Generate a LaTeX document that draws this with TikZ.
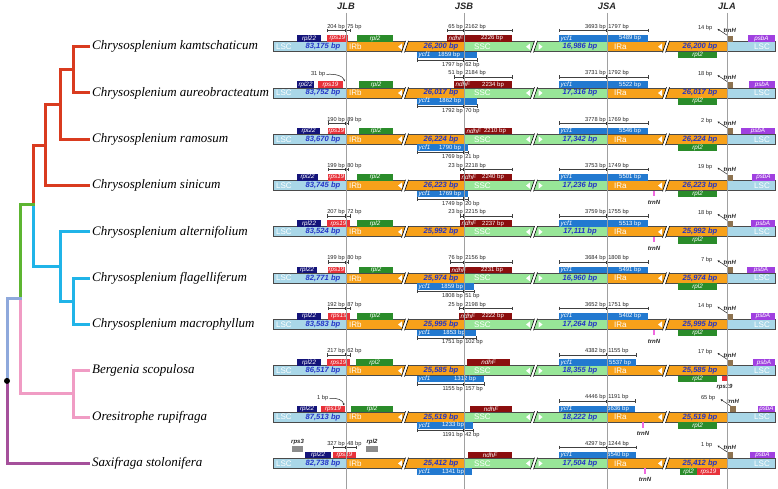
\documentclass[tikz,border=0pt]{standalone}
\usepackage{fontspec}
\setmainfont{Liberation Sans}
\newfontfamily\spfont{Liberation Serif}
\usetikzlibrary{arrows.meta}
\definecolor{lsccol}{HTML}{A9D7E8}
\definecolor{ircol}{HTML}{F7A11A}
\definecolor{ssccol}{HTML}{98E698}
\definecolor{barcol}{HTML}{4A4A4A}
\definecolor{rplnavy}{HTML}{14147A}
\definecolor{rpsred}{HTML}{E8323A}
\definecolor{rplgreen}{HTML}{2A8C2A}
\definecolor{ndhfcol}{HTML}{8B0E0E}
\definecolor{ycfcol}{HTML}{2279D0}
\definecolor{trnhcol}{HTML}{8E7350}
\definecolor{psbacol}{HTML}{A040E0}
\definecolor{trnncol}{HTML}{F06AE0}
\definecolor{rpsthree}{HTML}{8C8C8C}
\definecolor{bpblue}{HTML}{2233C8}
\definecolor{gridcol}{HTML}{A0A0A0}
\definecolor{trred}{HTML}{D93B1F}
\definecolor{trgreen}{HTML}{5DB531}
\definecolor{trblue}{HTML}{20B4E8}
\definecolor{trlblue}{HTML}{8FA9DC}
\definecolor{trpink}{HTML}{F09CC4}
\definecolor{trpurple}{HTML}{A5509B}
\tikzset{
  gbox/.style={inner sep=0pt, outer sep=0pt, minimum height=6.6pt, draw=none},
  glab/.style={font=\fontsize{6.3}{7}\selectfont\itshape, text=white, inner sep=0pt},
  blab/.style={font=\fontsize{6}{7}\selectfont, text=white, inner sep=0pt},
  dtext/.style={font=\fontsize{5.7}{6.5}\selectfont, text=black!85, inner sep=0.5pt},
  tlab/.style={font=\fontsize{6}{7}\selectfont\bfseries\itshape, text=black!85, inner sep=0.3pt},
  dimln/.style={line width=0.4pt, draw=black!75},
  seglab/.style={font=\fontsize{8}{9}\selectfont, text=white, inner sep=0pt},
  bplab/.style={font=\fontsize{7.6}{8}\selectfont\bfseries\itshape, text=bpblue, inner sep=0pt},
  species/.style={font=\spfont\fontsize{13}{14}\selectfont\itshape, anchor=west, inner sep=0pt},
  hdr/.style={font=\fontsize{9.3}{10}\selectfont\bfseries\itshape, text=black!85, inner sep=0pt},
  barline/.style={draw=barcol, line width=0.9pt},
  brkline/.style={draw=black, line width=0.6pt},
  arrln/.style={draw=black!85, line width=0.5pt},
  treeln/.style={line width=3pt, line cap=rect, line join=miter},
  gridln/.style={draw=gridcol, line width=0.6pt}
}
\newcommand{\gmBrk}[1]{%
  \fill[white] (#1-3.5,5.8) -- (#1+0.5,-5.8) -- (#1+3.5,-5.8) -- (#1-0.5,5.8) -- cycle;
  \draw[brkline] (#1-3.5,5.8) -- (#1+0.5,-5.8) (#1-0.5,5.8) -- (#1+3.5,-5.8);}
\newcommand{\gmTriL}[1]{\fill[white] (#1,-3.2) -- (#1,3.2) -- (#1-4,0) -- cycle;}
\newcommand{\gmTriR}[1]{\fill[white] (#1,-3.2) -- (#1,3.2) -- (#1+4,0) -- cycle;}
\newcommand{\gmBar}[4]{%
  \fill[lsccol] (273,-5) rectangle (346,5);
  \fill[ircol] (346,-5) rectangle (464,5);
  \fill[ssccol] (464,-5) rectangle (607,5);
  \fill[ircol] (607,-5) rectangle (727,5);
  \fill[lsccol] (727,-5) rectangle (775,5);
  \draw[barline] (273,-5) rectangle (775,5);
  \gmTriL{402}\gmBrk{405}
  \gmTriL{530}\gmBrk{534}\gmTriR{538.5}
  \gmTriL{662}\gmBrk{666}
  \node[seglab, anchor=west] (#1lsc) at (276,0) {LSC};
  \node[bplab] (#1lscbp) at (323,0) {#2 bp};
  \node[seglab, anchor=west] (#1irb) at (349,0) {IRb};
  \node[bplab] (#1irbbp) at (441,0) {#3 bp};
  \node[seglab, anchor=west] (#1ssc) at (474,0) {SSC};
  \node[bplab] (#1sscbp) at (580,0) {#4 bp};
  \node[seglab, anchor=west] (#1ira) at (614,0) {IRa};
  \node[bplab] (#1irabp) at (700,0) {#3 bp};
  \node[seglab] (#1lscr) at (762,0) {LSC};}
\newcommand{\gmGU}[5]{%
  \node[gbox, fill=#4, minimum width={#3pt-#2pt}, anchor=south west] (#1) at (#2,-5) {};
  \node[glab] (#1t) at (#1.center) {#5};}
\newcommand{\gmGD}[5]{%
  \node[gbox, fill=#4, minimum width={#3pt-#2pt}, anchor=north west] (#1) at (#2,5) {};
  \node[glab] (#1t) at (#1.center) {#5};}
\newcommand{\gmGUb}[7]{%
  \node[gbox, fill=#4, minimum width={#3pt-#2pt}, anchor=south west] (#1) at (#2,-5) {};
  \node[glab, anchor=west] (#1t) at ([xshift=1.5pt]#1.west) {#5};
  \node[blab] (#1b) at (#7,-8.3) {#6};}
\newcommand{\gmGDb}[7]{%
  \node[gbox, fill=#4, minimum width={#3pt-#2pt}, anchor=north west] (#1) at (#2,5) {};
  \node[glab, anchor=west] (#1t) at ([xshift=1.5pt]#1.west) {#5};
  \node[blab] (#1b) at (#7,8.3) {#6};}
\newcommand{\gmDU}[5]{%
  \draw[dimln] (#1,-16) -- (#3,-16) (#1,-17.8) -- (#1,-14.2) (#3,-17.8) -- (#3,-14.2);
  \fill[black!80] (#2-0.8,-17.6) rectangle (#2+0.8,-14.4);
  \node[dtext, anchor=south east] at (#2-0.6,-16.4) {#4};
  \node[dtext, anchor=south west] at (#2+0.6,-16.4) {#5};}
\newcommand{\gmDD}[5]{%
  \draw[dimln] (#1,13.3) -- (#3,13.3) (#1,11.5) -- (#1,15.1) (#3,11.5) -- (#3,15.1);
  \fill[black!80] (#2-0.8,11.7) rectangle (#2+0.8,14.9);
  \node[dtext, anchor=north east] at (#2-0.6,14.6) {#4};
  \node[dtext, anchor=north west] at (#2+0.6,14.6) {#5};}
\newcommand{\gmTrnH}[3]{%
  \fill[trnhcol] (#2,-5) rectangle (#2+6,-11);
  \draw[arrln, -{Stealth[length=2.2pt,width=2pt]}] (#2+0.5,-11.2) -- (#2-9.5,-17.8);
  \node[dtext, anchor=east] at (#2-14,-18.6) {#3};
  \node[tlab, anchor=south west] (#1) at (#2-4,-13.2) {trnH};}
\newcommand{\gmPsbA}[2]{%
  \node[gbox, fill=psbacol, minimum width={775pt-#2pt}, anchor=south west] (#1) at (#2,-5) {};
  \node[glab] (#1t) at (#1.center) {psbA};}
\newcommand{\gmTrnN}[2]{%
  \fill[trnncol] (#2-0.8,5) rectangle (#2+0.8,10.5);
  \node[tlab] (#1) at (#2,16.5) {trnN};}
\newcommand{\gmCurve}[3]{%
  \node[dtext, anchor=east] at (#2,-18.6) {#1};
  \draw[arrln, -{Stealth[length=2pt,width=1.8pt]}] (#2+0.5,-18.6) .. controls (#2+9,-19.5) and (#3-1,-17) .. (#3,-11.6);}

\begin{document}
\begin{tikzpicture}[x=1pt,y=-1pt]
\useasboundingbox (0,0) rectangle (778,489);
\fill[white] (0,0) rectangle (778,489);

% ---------- tree ----------
\begin{scope}[treeln]
\draw[trred] (88,46.7) -- (73,46.7) -- (73,93) -- (88,93);
\draw[trred] (73,69.85) -- (60,69.85) -- (60,139.3) -- (88,139.3);
\draw[trred] (60,104.6) -- (45,104.6) -- (45,185.6) -- (88,185.6);
\draw[trred] (45,145.1) -- (33,145.1) -- (33,204);
\draw[trblue] (33,204) -- (33,266.6) -- (60,266.6);
\draw[trblue] (88,231.9) -- (60,231.9) -- (60,301.35) -- (73,301.35);
\draw[trblue] (88,278.2) -- (73,278.2) -- (73,324.5) -- (88,324.5);
\draw[trgreen] (33,204) -- (20,204) -- (20,298.35);
\draw[trpink] (20,298.35) -- (20,393.95) -- (73,393.95);
\draw[trpink] (88,370.8) -- (73,370.8) -- (73,417.1) -- (88,417.1);
\draw[trlblue] (20,298.35) -- (7,298.35) -- (7,380.9);
\draw[trpurple] (7,380.9) -- (7,463.4) -- (88,463.4);
\end{scope}
\fill[black] (7,380.9) circle[radius=3pt];

% ---------- species ----------
\node[species] (sp1) at (92,46.7) {Chrysosplenium kamtschaticum};
\node[species] (sp2) at (92,93) {Chrysosplenium aureobracteatum};
\node[species] (sp3) at (92,139.3) {Chrysosplenium ramosum};
\node[species] (sp4) at (92,185.6) {Chrysosplenium sinicum};
\node[species] (sp5) at (92,231.9) {Chrysosplenium alternifolium};
\node[species] (sp6) at (92,278.2) {Chrysosplenium flagelliferum};
\node[species] (sp7) at (92,324.5) {Chrysosplenium macrophyllum};
\node[species] (sp8) at (92,370.8) {Bergenia scopulosa};
\node[species] (sp9) at (92,417.1) {Oresitrophe rupifraga};
\node[species] (sp10) at (92,463.4) {Saxifraga stolonifera};

% ---------- row 1 ----------
\begin{scope}[yshift=-46.7pt]
\gmBar{r1}{83,175}{26,200}{16,986}
\gmGU{r1a}{297}{321}{rplnavy}{rpl22}
\gmGU{r1b}{327}{348}{rpsred}{rps19}
\gmGU{r1c}{357}{393}{rplgreen}{rpl2}
\gmDU{327}{346}{350}{204 bp}{75 bp}
\gmGUb{r1d}{447}{512}{ndhfcol}{ndhF}{2226 bp}{492}
\gmDU{447}{464}{512}{65 bp}{2162 bp}
\gmGDb{r1e}{417}{477}{ycfcol}{ycf1}{1859 bp}{449}
\gmDD{417}{464}{477}{1797 bp}{62 bp}
\gmGUb{r1f}{559}{648}{ycfcol}{ycf1}{5489 bp}{630}
\gmDU{559}{607}{648}{3693 bp}{1797 bp}
\gmTrnH{r1g}{727}{14 bp}
\gmPsbA{r1h}{748}
\gmGD{r1i}{678}{717}{rplgreen}{rpl2}
\end{scope}

% ---------- row 2 ----------
\begin{scope}[yshift=-93pt]
\gmBar{r2}{83,752}{26,017}{17,316}
\gmGU{r2a}{297}{314}{rplnavy}{rpl22}
\gmGU{r2b}{318}{343}{rpsred}{rps19}
\gmGU{r2c}{359}{393}{rplgreen}{rpl2}
\gmCurve{31 bp}{326}{344.5}
\gmGUb{r2d}{454}{512}{ndhfcol}{ndhF}{2234 bp}{493}
\gmDU{454}{464}{512}{51 bp}{2184 bp}
\gmGDb{r2e}{417}{477}{ycfcol}{ycf1}{1862 bp}{450}
\gmDD{417}{464}{477}{1792 bp}{70 bp}
\gmGUb{r2f}{559}{648}{ycfcol}{ycf1}{5522 bp}{630}
\gmDU{559}{607}{648}{3731 bp}{1792 bp}
\gmTrnH{r2g}{727}{18 bp}
\gmPsbA{r2h}{749}
\gmGD{r2i}{678}{717}{rplgreen}{rpl2}
\end{scope}

% ---------- row 3 ----------
\begin{scope}[yshift=-139.3pt]
\gmBar{r3}{83,670}{26,224}{17,342}
\gmGU{r3a}{297}{320}{rplnavy}{rpl22}
\gmGU{r3b}{328}{345}{rpsred}{rps19}
\gmGU{r3c}{359}{393}{rplgreen}{rpl2}
\gmDU{328}{346}{348}{190 bp}{89 bp}
\gmGUb{r3d}{465}{512}{ndhfcol}{ndhF}{2210 bp}{495}
\gmGDb{r3e}{417}{468}{ycfcol}{ycf1}{1790 bp}{450}
\gmDD{417}{464}{468}{1769 bp}{21 bp}
\gmGUb{r3f}{559}{648}{ycfcol}{ycf1}{5546 bp}{630}
\gmDU{559}{607}{648}{3778 bp}{1769 bp}
\gmTrnH{r3g}{727}{2 bp}
\gmPsbA{r3h}{741}
\gmGD{r3i}{678}{717}{rplgreen}{rpl2}
\end{scope}

% ---------- row 4 ----------
\begin{scope}[yshift=-185.6pt]
\gmBar{r4}{83,745}{26,223}{17,236}
\gmGU{r4a}{297}{318}{rplnavy}{rpl22}
\gmGU{r4b}{328}{345}{rpsred}{rps19}
\gmGU{r4c}{357}{393}{rplgreen}{rpl2}
\gmDU{328}{346}{348}{199 bp}{80 bp}
\gmGUb{r4d}{460}{512}{ndhfcol}{ndhF}{2240 bp}{493}
\gmDU{460}{464}{512}{23 bp}{2218 bp}
\gmGDb{r4e}{417}{468}{ycfcol}{ycf1}{1769 bp}{450}
\gmDD{417}{464}{468}{1749 bp}{20 bp}
\gmGUb{r4f}{559}{648}{ycfcol}{ycf1}{5501 bp}{630}
\gmDU{559}{607}{648}{3753 bp}{1749 bp}
\gmTrnH{r4g}{727}{19 bp}
\gmPsbA{r4h}{752}
\gmGD{r4i}{678}{717}{rplgreen}{rpl2}
\gmTrnN{r4j}{654}
\end{scope}

% ---------- row 5 ----------
\begin{scope}[yshift=-231.9pt]
\gmBar{r5}{83,524}{25,992}{17,111}
\gmGU{r5a}{297}{321}{rplnavy}{rpl22}
\gmGU{r5b}{327}{350}{rpsred}{rps19}
\gmGU{r5c}{357}{393}{rplgreen}{rpl2}
\gmDU{327}{346}{350}{207 bp}{72 bp}
\gmGUb{r5d}{460}{512}{ndhfcol}{ndhF}{2237 bp}{493}
\gmDU{460}{464}{512}{23 bp}{2215 bp}
\gmGUb{r5f}{559}{648}{ycfcol}{ycf1}{5513 bp}{630}
\gmDU{559}{607}{648}{3759 bp}{1755 bp}
\gmTrnH{r5g}{727}{18 bp}
\gmPsbA{r5h}{751}
\gmGD{r5i}{678}{717}{rplgreen}{rpl2}
\gmTrnN{r5j}{654}
\end{scope}

% ---------- row 6 ----------
\begin{scope}[yshift=-278.2pt]
\gmBar{r6}{82,771}{25,974}{16,960}
\gmGU{r6a}{297}{317}{rplnavy}{rpl22}
\gmGU{r6b}{328}{345}{rpsred}{rps19}
\gmGU{r6c}{359}{393}{rplgreen}{rpl2}
\gmDU{328}{346}{348}{199 bp}{80 bp}
\gmGUb{r6d}{450}{512}{ndhfcol}{ndhF}{2231 bp}{492}
\gmDU{450}{464}{512}{76 bp}{2156 bp}
\gmGDb{r6e}{417}{474}{ycfcol}{ycf1}{1859 bp}{452}
\gmDD{417}{464}{474}{1808 bp}{51 bp}
\gmGUb{r6f}{559}{648}{ycfcol}{ycf1}{5491 bp}{630}
\gmDU{559}{607}{648}{3684 bp}{1808 bp}
\gmTrnH{r6g}{727}{7 bp}
\gmPsbA{r6h}{747}
\gmGD{r6i}{678}{717}{rplgreen}{rpl2}
\end{scope}

% ---------- row 7 ----------
\begin{scope}[yshift=-324.5pt]
\gmBar{r7}{83,583}{25,995}{17,264}
\gmGU{r7a}{297}{321}{rplnavy}{rpl22}
\gmGU{r7b}{328}{350}{rpsred}{rps19}
\gmGU{r7c}{357}{393}{rplgreen}{rpl2}
\gmDU{328}{346}{350}{192 bp}{87 bp}
\gmGUb{r7d}{459}{512}{ndhfcol}{ndhF}{2222 bp}{493}
\gmDU{459}{464}{512}{25 bp}{2198 bp}
\gmGDb{r7e}{417}{476}{ycfcol}{ycf1}{1853 bp}{454}
\gmDD{417}{464}{476}{1751 bp}{102 bp}
\gmGUb{r7f}{559}{648}{ycfcol}{ycf1}{5402 bp}{630}
\gmDU{559}{607}{648}{3652 bp}{1751 bp}
\gmTrnH{r7g}{727}{14 bp}
\gmPsbA{r7h}{751}
\gmGD{r7i}{678}{717}{rplgreen}{rpl2}
\gmTrnN{r7j}{654}
\end{scope}

% ---------- row 8 ----------
\begin{scope}[yshift=-370.8pt]
\gmBar{r8}{86,517}{25,585}{18,355}
\gmGU{r8a}{297}{321}{rplnavy}{rpl22}
\gmGU{r8b}{327}{350}{rpsred}{rps19}
\gmGU{r8c}{356}{393}{rplgreen}{rpl2}
\gmDU{327}{346}{350}{217 bp}{62 bp}
\gmGU{r8d}{467}{510}{ndhfcol}{ndhF}
\gmGDb{r8e}{417}{484}{ycfcol}{ycf1}{1312 bp}{465}
\gmDD{417}{464}{484}{1155 bp}{157 bp}
\gmGUb{r8f}{559}{636}{ycfcol}{ycf1}{5537 bp}{620}
\gmDU{559}{607}{636}{4382 bp}{1155 bp}
\gmTrnH{r8g}{727}{17 bp}
\gmPsbA{r8h}{753}
\gmGD{r8i}{678}{717}{rplgreen}{rpl2}
\fill[rpsred] (722,5) rectangle (727,10.5);
\node[tlab] (r8k) at (724.5,16.5) {rps19};
\end{scope}

% ---------- row 9 ----------
\begin{scope}[yshift=-417.1pt]
\gmBar{r9}{87,513}{25,519}{18,222}
\gmGU{r9a}{297}{317}{rplnavy}{rpl22}
\gmGU{r9b}{321}{345}{rpsred}{rps19}
\gmGU{r9c}{351}{393}{rplgreen}{rpl2}
\gmCurve{1 bp}{329}{344}
\gmGU{r9d}{470}{512}{ndhfcol}{ndhF}
\gmGDb{r9e}{417}{473}{ycfcol}{ycf1}{1233 bp}{453}
\gmDD{417}{464}{473}{1191 bp}{42 bp}
\gmGUb{r9f}{559}{635}{ycfcol}{ycf1}{5636 bp}{618}
\gmDU{559}{607}{635}{4446 bp}{1191 bp}
\gmTrnH{r9g}{730}{65 bp}
\gmPsbA{r9h}{758}
\gmGD{r9i}{678}{717}{rplgreen}{rpl2}
\gmTrnN{r9j}{643}
\end{scope}

% ---------- row 10 ----------
\begin{scope}[yshift=-463.4pt]
\gmBar{r10}{82,738}{25,412}{17,504}
\fill[rpsthree] (292,-17) rectangle (303,-11);
\node[tlab] (r10s) at (297.5,-21.5) {rps3};
\gmGU{r10a}{305}{331}{rplnavy}{rpl22}
\gmGU{r10b}{333}{356}{rpsred}{rps19}
\fill[rpsthree] (366,-17) rectangle (378,-11);
\node[tlab] (r10t) at (372,-21.5) {rpl2};
\gmDU{333}{346}{356}{327 bp}{48 bp}
\gmGU{r10d}{468}{512}{ndhfcol}{ndhF}
\gmGDb{r10e}{417}{472}{ycfcol}{ycf1}{1341 bp}{453}
\gmGUb{r10f}{559}{636}{ycfcol}{ycf1}{5540 bp}{618}
\gmDU{559}{607}{636}{4297 bp}{1244 bp}
\gmTrnH{r10g}{727}{1 bp}
\gmPsbA{r10h}{750}
\gmGD{r10i}{680}{697}{rplgreen}{rpl2}
\gmGD{r10k}{697}{720}{rpsred}{rps19}
\gmTrnN{r10j}{645}
\end{scope}

% ---------- junction lines ----------
\node[hdr] (hJLB) at (346,6) {JLB};
\node[hdr] (hJSB) at (464,6) {JSB};
\node[hdr] (hJSA) at (607,6) {JSA};
\node[hdr] (hJLA) at (727,6) {JLA};
\draw[gridln] (346,13) -- (346,489);
\draw[gridln] (464,13) -- (464,489);
\draw[gridln] (607,13) -- (607,489);
\draw[gridln] (727,13) -- (727,489);
\end{tikzpicture}
\end{document}
